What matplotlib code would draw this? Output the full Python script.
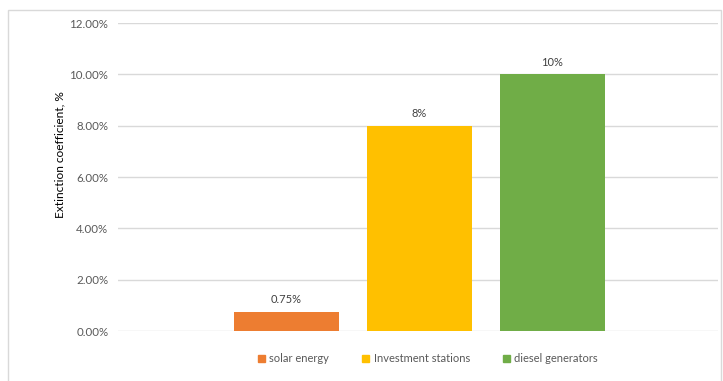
import matplotlib.pyplot as plt
from matplotlib.patches import Rectangle, Patch
from matplotlib.ticker import FuncFormatter

categories = ["solar energy", "Investment stations", "diesel generators"]
values = [0.0075, 0.08, 0.10]
labels = ["0.75%", "8%", "10%"]
colors = ["#ED7D31", "#FFC000", "#70AD47"]
yticks = [0, 0.02, 0.04, 0.06, 0.08, 0.10, 0.12]

plt.rcParams['font.family'] = ['Lato', 'DejaVu Sans']

fig = plt.figure(figsize=(7.23, 3.81), dpi=100)
ax = fig.add_axes([118 / 723, 1 - 331 / 381, 600 / 723, 308 / 381])

x = list(range(len(categories)))
ax.bar(x, values, width=0.79, color=colors, zorder=3)
for xi, v, lab in zip(x, values, labels):
    ax.text(xi, v + 0.0025, lab, ha="center", va="bottom", fontsize=8, color="#404040")

ax.set_xlim(-1.263, 3.244)
ax.set_ylim(0, 0.12)
ax.set_yticks(yticks)
ax.yaxis.set_major_formatter(FuncFormatter(lambda v, p: f"{v * 100:.2f}%"))
ax.tick_params(axis="y", length=0, labelsize=8.3, labelcolor="#595959", pad=7)
ax.set_xticks([])
ax.grid(axis="y", color="#D9D9D9", linewidth=1, zorder=0)
for s in ax.spines.values():
    s.set_visible(False)

fig.text(60 / 723, 1 - 155 / 381, "Extinction coefficient, %", rotation=90,
         ha="center", va="center", fontsize=8.6, color="black")

handles = [Patch(color=c, label=n) for c, n in zip(colors, categories)]
fig.legend(handles=handles, loc="center", bbox_to_anchor=(428 / 723, 1 - 359 / 381),
           ncol=3, frameon=False, fontsize=8, labelcolor="#595959",
           handlelength=0.6, handleheight=0.6, handletextpad=0.4, columnspacing=3.0)

fig.patches.append(Rectangle((8 / 723, -0.01), 713 / 723, 1 - 10 / 381 + 0.01,
                             transform=fig.transFigure, fill=False,
                             edgecolor="#D9D9D9", linewidth=1))

fig.savefig("out.png", dpi=100)
